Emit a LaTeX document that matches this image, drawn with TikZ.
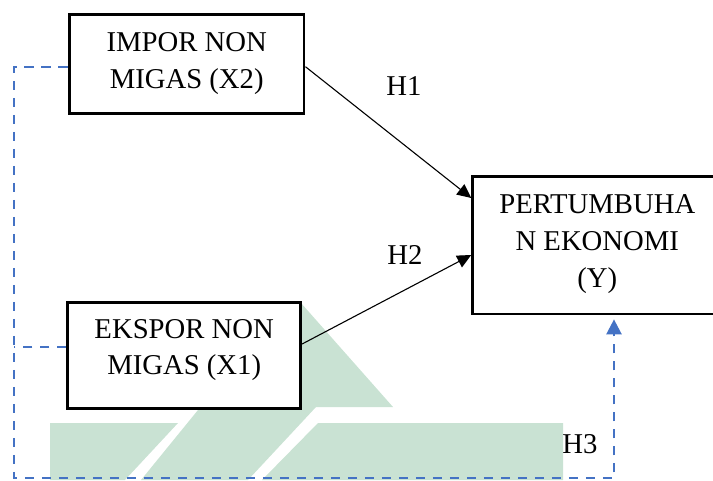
\documentclass[tikz,border=0pt]{standalone}
\usepackage{fontspec}
\setmainfont{Liberation Serif}
\usetikzlibrary{arrows.meta,calc}
\definecolor{dblue}{RGB}{68,114,196}
\definecolor{wgreen}{RGB}{201,226,211}
\begin{document}
\begin{tikzpicture}[x=1pt,y=-1pt,
  box/.style={draw=black,line width=2.8pt,fill=white,inner sep=0pt},
  txt/.style={align=center,inner sep=0pt,font=\fontsize{28.7}{36.7}\selectfont},
  hyp/.style={draw=black,line width=1.1pt,-{Triangle[length=14pt,width=13pt]}},
  bluedash/.style={draw=dblue,line width=2.4pt,dash pattern=on 9.5pt off 7.5pt}
]
\useasboundingbox (0,0) rectangle (713,480);
\clip (0,0) rectangle (713,480);
% watermark
\fill[wgreen] (50,423) -- (178,423) -- (125,480) -- (50,480) -- cycle;
\fill[wgreen] (301,303) -- (393,407) -- (316,407) -- (248,480) -- (141,480) -- (198,410) -- cycle;
\fill[wgreen] (318,423) -- (563,423) -- (563,480) -- (262,480) -- cycle;
% boxes
\node[box,minimum width=234.7pt,minimum height=98.6pt] (x2) at (186.7,64) {};
\node[txt] (x2t) at (186.7,63.3) {IMPOR NON\\MIGAS (X2)};
\node[box,minimum width=233pt,minimum height=105.6pt] (x1) at (184.2,355.5) {};
\node[txt] (x1t) at (184.2,350) {EKSPOR NON\\MIGAS (X1)};
\node[box,minimum width=249.3pt,minimum height=137.3pt] (y) at (597.3,245.3) {};
\node[txt] (yt) at (597.3,244) {PERTUMBUHA\\N EKONOMI\\(Y)};
% hypothesis arrows
\draw[hyp] ($(x2.east)+(0,2.7)$) -- ($(y.west)+(0,-47.3)$);
\draw[hyp] ($(x1.east)+(0,-11.5)$) -- ($(y.west)+(0,9.7)$);
% dashed connector
\coordinate (cTL) at (14,66.7);
\coordinate (cML) at (14,347);
\coordinate (cBL) at (14,478);
\coordinate (cBR) at (614,478);
\coordinate (yarr) at ($(y.south)+(16.7,4)$);
\draw[bluedash,-{Triangle[length=15pt,width=15pt]}] ($(x2.west)+(0,2.7)$) -- (cTL) -- (cBL) -- (cBR) -- (yarr);
\draw[bluedash] ($(x1.west)+(0,-8.5)$) -- (cML);
% labels
\node[txt] (h1) at (404,86) {H1};
\node[txt] (h2) at (405,255) {H2};
\node[txt] (h3) at (580,444) {H3};
\end{tikzpicture}
\end{document}
